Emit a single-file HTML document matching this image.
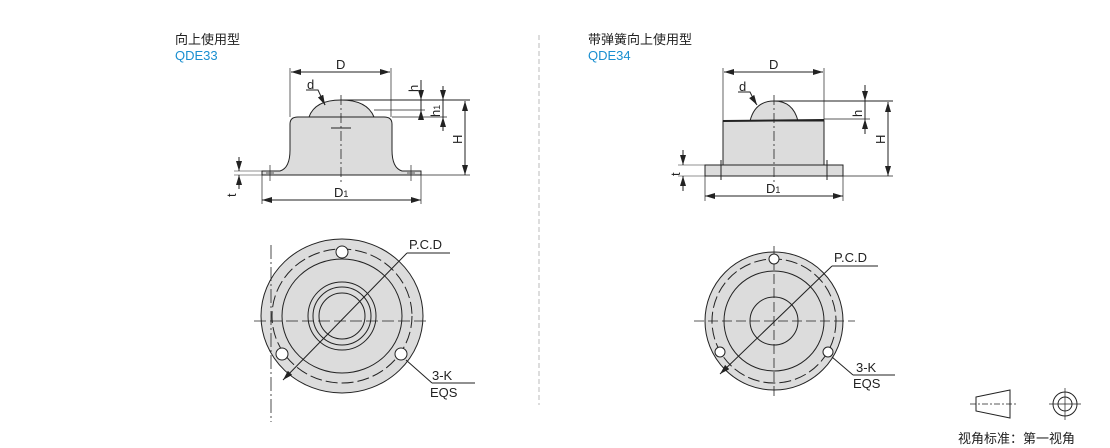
<!DOCTYPE html>
<html><head><meta charset="utf-8"><style>
html,body{margin:0;padding:0;background:#fff;}
svg{display:block;}
text{font-family:"Liberation Sans","Noto Sans CJK SC",sans-serif;fill:#222;}
</style></head><body>
<svg width="1110" height="448" viewBox="0 0 1110 448" xmlns="http://www.w3.org/2000/svg">
<defs>
<marker id="a" viewBox="0 0 10 6" refX="10" refY="3" markerWidth="10" markerHeight="6" orient="auto-start-reverse" markerUnits="userSpaceOnUse"><path d="M0,0 L10,3 L0,6z" fill="#222"/></marker>
</defs>
<g stroke="#222" stroke-width="1" fill="none">
<!-- separator -->
<line x1="539" y1="35" x2="539" y2="405" stroke="#bbb" stroke-dasharray="5,3"/>

<!-- LEFT SIDE VIEW -->
<line x1="290" y1="68" x2="290" y2="117" stroke-width="0.7"/>
<line x1="391" y1="68" x2="391" y2="117" stroke-width="0.7"/>
<line x1="291" y1="72" x2="390" y2="72" marker-start="url(#a)" marker-end="url(#a)"/>
<path d="M309,117 Q315,100 341,100 Q367,100 374,117 Z" fill="#dcdcdc"/>
<path d="M262,171 L280,171 Q290,168 290,150 L290,124 Q290,117 298,117 L384,117 Q392,117 392,124 L392,150 Q392,168 402,171 L421,171 L421,175 L262,175 Z" fill="#dcdcdc"/>
<line x1="341" y1="100" x2="470" y2="100"/>
<line x1="374" y1="110" x2="425" y2="110" stroke-width="0.7"/>
<line x1="392" y1="117" x2="447" y2="117" stroke-width="0.7"/>
<line x1="421" y1="175" x2="470" y2="175" stroke-width="0.7"/>
<line x1="341" y1="95" x2="341" y2="182" stroke-dasharray="10,3,2,3" stroke-width="0.8"/>
<line x1="331" y1="128" x2="351" y2="128"/>
<line x1="270" y1="165" x2="270" y2="181" stroke-width="0.7"/><line x1="266" y1="173" x2="274" y2="173" stroke-width="0.7"/>
<line x1="411" y1="165" x2="411" y2="181" stroke-width="0.7"/><line x1="407" y1="173" x2="415" y2="173" stroke-width="0.7"/>
<line x1="421" y1="80" x2="421" y2="100" marker-end="url(#a)"/>
<line x1="421" y1="120" x2="421" y2="110" marker-end="url(#a)"/>
<line x1="421" y1="100" x2="421" y2="110"/>
<line x1="443" y1="86" x2="443" y2="100" marker-end="url(#a)"/>
<line x1="443" y1="100" x2="443" y2="117"/>
<line x1="443" y1="131" x2="443" y2="117" marker-end="url(#a)"/>
<line x1="465" y1="101" x2="465" y2="175" marker-start="url(#a)" marker-end="url(#a)"/>
<line x1="239" y1="157" x2="239" y2="171" marker-end="url(#a)"/>
<line x1="239" y1="189" x2="239" y2="175" marker-end="url(#a)"/>
<line x1="234" y1="171" x2="262" y2="171" stroke-width="0.6"/>
<line x1="234" y1="175" x2="262" y2="175" stroke-width="0.6"/>
<line x1="262" y1="175" x2="262" y2="204" stroke-width="0.7"/>
<line x1="421" y1="175" x2="421" y2="204" stroke-width="0.7"/>
<line x1="262" y1="200" x2="421" y2="200" marker-start="url(#a)" marker-end="url(#a)"/>
<path d="M306,90 L318,90 L325,105" /><line x1="321" y1="97" x2="325" y2="105" marker-end="url(#a)"/>

<!-- LEFT PLAN VIEW -->
<ellipse cx="342" cy="316" rx="81" ry="77" fill="#dcdcdc"/>
<ellipse cx="342" cy="316" rx="70" ry="67" stroke-dasharray="12,4"/>
<ellipse cx="342" cy="316" rx="60" ry="57"/>
<circle cx="342" cy="316" r="34"/>
<circle cx="342" cy="316" r="29"/>
<circle cx="342" cy="316" r="23"/>
<line x1="254" y1="321" x2="430" y2="321" stroke-dasharray="12,4" stroke-width="0.8"/>
<line x1="271" y1="245" x2="271" y2="422" stroke-dasharray="14,3,2,3" stroke-width="0.8"/>
<circle cx="342" cy="252" r="6" fill="#fff"/>
<circle cx="282" cy="354" r="6" fill="#fff"/>
<circle cx="401" cy="354" r="6" fill="#fff"/>
<line x1="283" y1="380" x2="407" y2="253" marker-start="url(#a)"/>
<line x1="407" y1="253" x2="450" y2="253"/>
<line x1="406" y1="360" x2="432" y2="383"/>
<line x1="432" y1="383" x2="475" y2="383"/>

<!-- RIGHT SIDE VIEW -->
<line x1="723" y1="68" x2="723" y2="121" stroke-width="0.7"/>
<line x1="824" y1="68" x2="824" y2="121" stroke-width="0.7"/>
<line x1="724" y1="72" x2="823" y2="72" marker-start="url(#a)" marker-end="url(#a)"/>
<path d="M750,121 Q755,101 774,101 Q793,101 798,121 Z" fill="#dcdcdc"/>
<rect x="723" y="121" width="101" height="44" fill="#dcdcdc"/>
<line x1="723" y1="121" x2="824" y2="120" stroke-width="2"/>
<rect x="705" y="165" width="138" height="11" fill="#dcdcdc"/>
<line x1="721" y1="160" x2="721" y2="180" /><line x1="827" y1="160" x2="827" y2="180"/>
<line x1="774" y1="95" x2="774" y2="182" stroke-dasharray="10,3,2,3" stroke-width="0.8"/>
<line x1="774" y1="101" x2="893" y2="101"/>
<line x1="824" y1="119" x2="870" y2="119" stroke-width="0.7"/>
<line x1="843" y1="176" x2="893" y2="176" stroke-width="0.7"/>
<line x1="865" y1="85" x2="865" y2="101" marker-end="url(#a)"/>
<line x1="865" y1="101" x2="865" y2="119"/>
<line x1="865" y1="134" x2="865" y2="119" marker-end="url(#a)"/>
<line x1="888" y1="102" x2="888" y2="176" marker-start="url(#a)" marker-end="url(#a)"/>
<line x1="683" y1="150" x2="683" y2="165" marker-end="url(#a)"/>
<line x1="683" y1="191" x2="683" y2="176" marker-end="url(#a)"/>
<line x1="678" y1="165" x2="705" y2="165" stroke-width="0.6"/>
<line x1="678" y1="176" x2="705" y2="176" stroke-width="0.6"/>
<line x1="705" y1="176" x2="705" y2="201" stroke-width="0.7"/>
<line x1="843" y1="176" x2="843" y2="201" stroke-width="0.7"/>
<line x1="705" y1="196" x2="843" y2="196" marker-start="url(#a)" marker-end="url(#a)"/>
<path d="M738,92 L750,92 L756,104"/><line x1="752" y1="97" x2="757" y2="105" marker-end="url(#a)"/>

<!-- RIGHT PLAN VIEW -->
<circle cx="774" cy="321" r="69" fill="#dcdcdc"/>
<circle cx="774" cy="321" r="62" stroke-dasharray="12,4"/>
<circle cx="774" cy="321" r="50"/>
<circle cx="774" cy="321" r="24"/>
<line x1="694" y1="321" x2="855" y2="321" stroke-dasharray="10,4" stroke-width="0.8"/>
<line x1="774" y1="246" x2="774" y2="396" stroke-dasharray="10,4" stroke-width="0.8"/>
<circle cx="774" cy="259" r="5" fill="#fff"/>
<circle cx="720" cy="352" r="5" fill="#fff"/>
<circle cx="828" cy="352" r="5" fill="#fff"/>
<line x1="720" y1="374" x2="832" y2="266" marker-start="url(#a)"/>
<line x1="832" y1="266" x2="878" y2="266"/>
<line x1="832" y1="357" x2="853" y2="375"/>
<line x1="853" y1="375" x2="895" y2="375"/>

<!-- ICONS -->
<path d="M976,397 L1010,390 L1010,418 L976,411 Z"/>
<line x1="970" y1="404" x2="1016" y2="404" stroke-dasharray="6,2,2,2" stroke-width="0.7"/>
<circle cx="1065" cy="404" r="12"/>
<circle cx="1065" cy="404" r="7"/>
<line x1="1049" y1="404" x2="1081" y2="404" stroke-width="0.7"/>
<line x1="1065" y1="388" x2="1065" y2="420" stroke-width="0.7"/>
</g>

<g font-size="13">
<text x="175" y="44">向上使用型</text>
<text x="175" y="60" fill="#1a8fd0" style="fill:#1a8fd0">QDE33</text>
<text x="588" y="44">带弹簧向上使用型</text>
<text x="588" y="60" style="fill:#1a8fd0">QDE34</text>
<text x="336" y="69">D</text>
<text x="307" y="89">d</text>
<text x="334" y="197">D<tspan font-size="9">1</tspan></text>
<text x="769" y="69">D</text>
<text x="739" y="91">d</text>
<text x="766" y="193">D<tspan font-size="9">1</tspan></text>
<text x="409" y="249">P.C.D</text>
<text x="432" y="380">3-K</text>
<text x="430" y="397">EQS</text>
<text x="834" y="262">P.C.D</text>
<text x="856" y="372">3-K</text>
<text x="853" y="388">EQS</text>
<text transform="translate(418,92) rotate(-90)">h</text>
<text transform="translate(440,117) rotate(-90)">h<tspan font-size="9">1</tspan></text>
<text transform="translate(462,144) rotate(-90)">H</text>
<text transform="translate(236,197) rotate(-90)">t</text>
<text transform="translate(862,117) rotate(-90)">h</text>
<text transform="translate(885,144) rotate(-90)">H</text>
<text transform="translate(680,176) rotate(-90)">t</text>
<text x="958" y="443">视角标准：第一视角</text>
</g>
</svg>
</body></html>
